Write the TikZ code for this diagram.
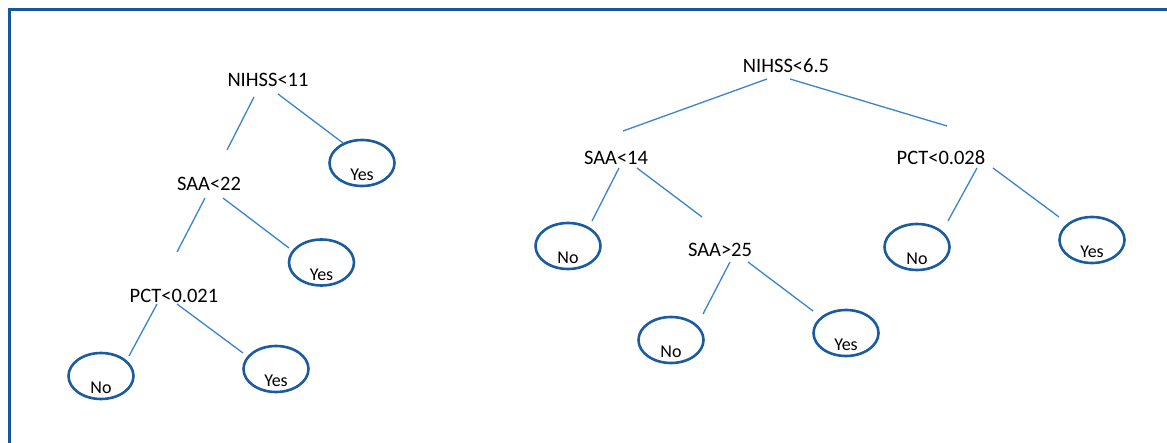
\documentclass[tikz,border=0pt]{standalone}
\usepackage{fontspec}
\setmainfont{Carlito}
\usetikzlibrary{shapes.geometric}
\definecolor{frameblue}{HTML}{13589C}
\definecolor{leafblue}{HTML}{1B5C9E}
\definecolor{linkblue}{HTML}{3B83CF}
\tikzset{
    ND/.style ={inner sep=0pt, font=\fontsize{20.5}{24}\selectfont},
    LF/.style ={ellipse, draw=leafblue, line width=2.6pt, inner sep=0pt,
                minimum width = 65pt, minimum height = 46pt,
                label={[yshift=-12pt]center:#1}},
    BR/.style ={draw=linkblue, line width=1.3pt},
    FR/.style ={draw=frameblue, line width=3pt}}
\begin{document}
\begin{tikzpicture}[x=1pt,y=-1pt,every label/.style={font=\fontsize{18}{20}\selectfont}]
        \useasboundingbox (0,0) rectangle (1167,443);
        \draw[FR] (9.5,443) -- (9.5,9.5) -- (1167,9.5);
        % left tree
        \node[ND] (1) at(268,80){NIHSS<11};
        \node[LF=Yes] (2) at(362,163){};
        \node[ND] (3) at(209,184){SAA<22};
        \node[LF=Yes] (4) at(321.5,262.5){};
        \node[ND] (5) at(174,296){PCT<0.021};
        \node[LF=No] (6) at(101,376){};
        \node[LF=Yes] (7) at(276,369){};
        % right tree
        \node[ND] (8) at(786,66){NIHSS<6.5};
        \node[ND] (9) at(616,158){SAA<14};
        \node[ND] (10) at(941,158){PCT<0.028};
        \node[LF=No] (11) at(568,246){};
        \node[ND] (12) at(720,250){SAA>25};
        \node[LF=No] (13) at(671,340){};
        \node[LF=Yes] (14) at(846,333){};
        \node[LF=No] (15) at(917,247){};
        \node[LF=Yes] (16) at(1092,240){};
        \draw[BR] ([shift={(-14,17)}]1.center) -- ([shift={(18,-34)}]3.center);
        \draw[BR] ([shift={(10,14)}]1.center) -- ([shift={(-19,-20)}]2.center);
        \draw[BR] ([shift={(-4,14)}]3.center) -- ([shift={(3,-44)}]5.center);
        \draw[BR] ([shift={(14,14)}]3.center) -- ([shift={(-32.5,-14.5)}]4.center);
        \draw[BR] ([shift={(-17,8)}]5.center) -- ([shift={(28,-20)}]6.center);
        \draw[BR] ([shift={(3,8)}]5.center) -- ([shift={(-33,-16)}]7.center);
        \draw[BR] ([shift={(-19,13)}]8.center) -- ([shift={(7,-27)}]9.center);
        \draw[BR] ([shift={(4,13)}]8.center) -- ([shift={(6,-32)}]10.center);
        \draw[BR] ([shift={(3,10)}]9.center) -- ([shift={(24,-25)}]11.center);
        \draw[BR] ([shift={(21,10)}]9.center) -- ([shift={(-18,-33)}]12.center);
        \draw[BR] ([shift={(10,12)}]12.center) -- ([shift={(32,-26)}]13.center);
        \draw[BR] ([shift={(28,12)}]12.center) -- ([shift={(-33,-22)}]14.center);
        \draw[BR] ([shift={(36,10)}]10.center) -- ([shift={(31,-26)}]15.center);
        \draw[BR] ([shift={(52,10)}]10.center) -- ([shift={(-33,-23)}]16.center);
    \end{tikzpicture}
\end{document}
